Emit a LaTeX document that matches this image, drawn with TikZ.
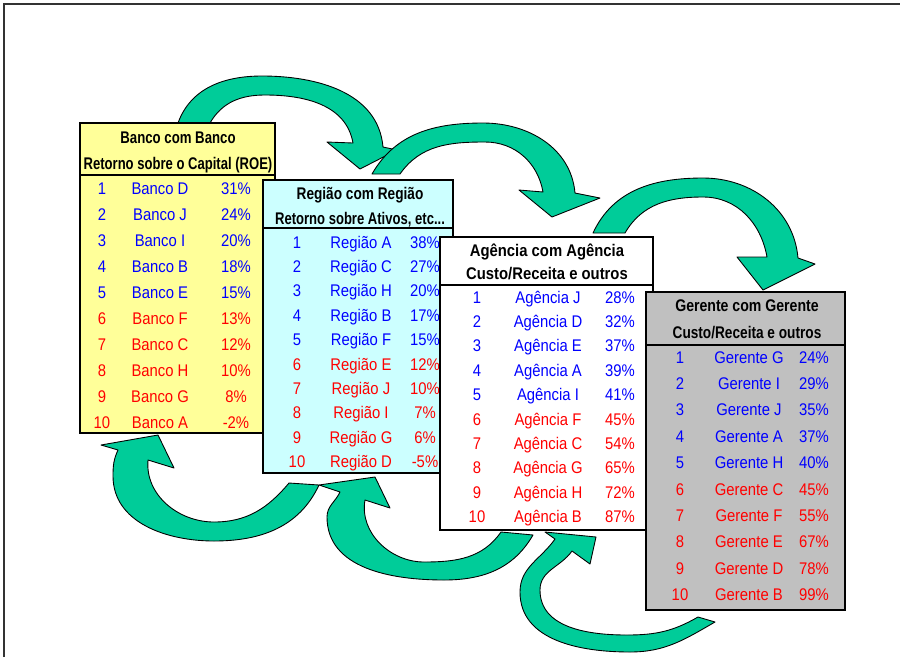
\documentclass[tikz,border=0pt]{standalone}
\usepackage{fontspec}
\setmainfont{Liberation Sans}[FakeStretch=0.88]
\usepackage{graphicx}
\definecolor{arrowgreen}{HTML}{00CC99}
\definecolor{bancofill}{HTML}{FFFF99}
\definecolor{regiaofill}{HTML}{CCFFFF}
\definecolor{gerentefill}{HTML}{C0C0C0}
\definecolor{topblue}{HTML}{0000FF}
\definecolor{lowred}{HTML}{FF0000}
\tikzset{
  tabela/.style={draw=black,line width=1.1pt,anchor=north west,inner sep=0pt,outer sep=0pt},
  cabec/.style={font=\fontsize{9.6}{11}\selectfont\bfseries,inner sep=0pt,anchor=base},
  linha/.style={font=\fontsize{9.6}{11}\selectfont,inner sep=0pt,anchor=base},
  seta/.style={fill=arrowgreen,draw=black,line width=0.5pt,line join=round},
}

\begin{document}
\begin{tikzpicture}[x=0.02cm,y=-0.02cm]
  \useasboundingbox (0,0) rectangle (900,657);
  \draw[line width=0.7pt,black!80] (4,657) -- (4,4) -- (900,4);

  % setas de cima
  \draw[seta] (178,123) to[out=70,in=180] (262,76) to[out=0,in=95] (383,147)
    -- (397,150) -- (360,169) -- (327,142) -- (353,143)
    to[out=100,in=0] (265,95) to[out=180,in=60] (210,123) -- cycle;
  \draw[seta] (372,174) to[out=60,in=180] (483,123) to[out=0,in=95] (575,193)
    -- (600,198) -- (552,217) -- (519,190) -- (543,192)
    to[out=100,in=0] (485,142) to[out=180,in=55] (400,174) -- cycle;
  \draw[seta] (593,233) to[out=65,in=180] (703,178) to[out=0,in=95] (798,258)
    -- (815,264) -- (763,290) -- (737,257) -- (767,257)
    to[out=100,in=0] (703,197) to[out=180,in=60] (625,233) -- cycle;
  % setas de baixo
  \draw[seta] (319,485) to[out=-115,in=0] (214,541) to[out=180,in=-90] (113,476)
    to[out=90,in=-115] (118,450) -- (101,445) -- (158,435) -- (174,468) -- (148,460)
    to[out=-95,in=180] (214,522) to[out=0,in=-130] (289,483) -- cycle;
  \draw[seta] (533,535) to[out=-120,in=0] (444,580) to[out=180,in=-90] (327,517)
    to[out=90,in=-115] (340,492) -- (319,485) -- (375,477) -- (390,508) -- (365,500)
    to[out=-100,in=180] (424,562) to[out=0,in=-125] (501,532) -- cycle;
  \draw[seta] (715,622) to[out=-150,in=0] (630,652) to[out=180,in=-90] (520,592)
    to[out=90,in=-125] (555,539) -- (545,532) -- (596,537) -- (590,564) -- (572,551)
    to[out=-125,in=90] (540,590) to[out=-90,in=180] (627,635) to[out=0,in=-150] (698,617) -- cycle;

  % Banco
  \node[tabela,fill=bancofill,minimum width=3.9cm,minimum height=1.04cm] (bancoCab) at (80,123) {};
  \node[tabela,fill=bancofill,minimum width=3.9cm,minimum height=5.16cm] (bancoCorpo) at (80,175) {};
  \node[cabec] (bancoT1) at (178,143) {\scalebox{0.89}[1]{Banco com Banco}};
  \node[cabec] (bancoT2) at (178,169) {\scalebox{0.88}[1]{Retorno sobre o Capital (ROE)}};
  \foreach \n/\nome/\pct in {1/D/31,2/J/24,3/I/20,4/B/18,5/E/15,6/F/13,7/C/12,8/H/10,9/G/8,10/A/-2} {
    \ifnum\n<6 \def\cor{topblue}\else\def\cor{lowred}\fi
    \node[linha,text=\cor] (bancoNum\n) at (102,{194+26*(\n-1)}) {\n};
    \node[linha,text=\cor] (bancoNome\n) at (160,{194+26*(\n-1)}) {Banco \nome};
    \node[linha,text=\cor] (bancoPct\n) at (236,{194+26*(\n-1)}) {\pct\%};
  }

  % Regiao
  \node[tabela,fill=regiaofill,minimum width=3.8cm,minimum height=0.96cm] (regiaoCab) at (263,180) {};
  \node[tabela,fill=regiaofill,minimum width=3.8cm,minimum height=4.9cm] (regiaoCorpo) at (263,228) {};
  \node[cabec] (regiaoT1) at (360,199) {\scalebox{0.92}[1]{Região com Região}};
  \node[cabec] (regiaoT2) at (360,224) {\scalebox{0.88}[1]{Retorno sobre Ativos, etc...}};
  \foreach \n/\nome/\pct in {1/A/38,2/C/27,3/H/20,4/B/17,5/F/15,6/E/12,7/J/10,8/I/7,9/G/6,10/D/-5} {
    \ifnum\n<6 \def\cor{topblue}\else\def\cor{lowred}\fi
    \node[linha,text=\cor] (regiaoNum\n) at (297,{248+24.4*(\n-1)}) {\n};
    \node[linha,text=\cor] (regiaoNome\n) at (361,{248+24.4*(\n-1)}) {Região \nome};
    \node[linha,text=\cor] (regiaoPct\n) at (425,{248+24.4*(\n-1)}) {\pct\%};
  }

  % Agencia
  \node[tabela,fill=white,minimum width=4.26cm,minimum height=0.96cm] (agenciaCab) at (440,237) {};
  \node[tabela,fill=white,minimum width=4.26cm,minimum height=4.9cm] (agenciaCorpo) at (440,285) {};
  \node[cabec] (agenciaT1) at (547,256) {Agência com Agência};
  \node[cabec] (agenciaT2) at (547,279) {Custo/Receita e outros};
  \foreach \n/\nome/\pct in {1/J/28,2/D/32,3/E/37,4/A/39,5/I/41,6/F/45,7/C/54,8/G/65,9/H/72,10/B/87} {
    \ifnum\n<6 \def\cor{topblue}\else\def\cor{lowred}\fi
    \node[linha,text=\cor] (agenciaNum\n) at (477,{303+24.4*(\n-1)}) {\n};
    \node[linha,text=\cor] (agenciaNome\n) at (548,{303+24.4*(\n-1)}) {Agência \nome};
    \node[linha,text=\cor] (agenciaPct\n) at (620,{303+24.4*(\n-1)}) {\pct\%};
  }

  % Gerente
  \node[tabela,fill=gerentefill,minimum width=3.98cm,minimum height=1.06cm] (gerenteCab) at (646,292) {};
  \node[tabela,fill=gerentefill,minimum width=3.98cm,minimum height=5.3cm] (gerenteCorpo) at (646,345) {};
  \node[cabec] (gerenteT1) at (747,311) {\scalebox{0.95}[1]{Gerente com Gerente}};
  \node[cabec] (gerenteT2) at (747,338) {\scalebox{0.92}[1]{Custo/Receita e outros}};
  \foreach \n/\nome/\pct in {1/G/24,2/I/29,3/J/35,4/A/37,5/H/40,6/C/45,7/F/55,8/E/67,9/D/78,10/B/99} {
    \ifnum\n<6 \def\cor{topblue}\else\def\cor{lowred}\fi
    \node[linha,text=\cor] (gerenteNum\n) at (680,{363+26.4*(\n-1)}) {\n};
    \node[linha,text=\cor] (gerenteNome\n) at (749,{363+26.4*(\n-1)}) {Gerente \nome};
    \node[linha,text=\cor] (gerentePct\n) at (814,{363+26.4*(\n-1)}) {\pct\%};
  }
\end{tikzpicture}
\end{document}
